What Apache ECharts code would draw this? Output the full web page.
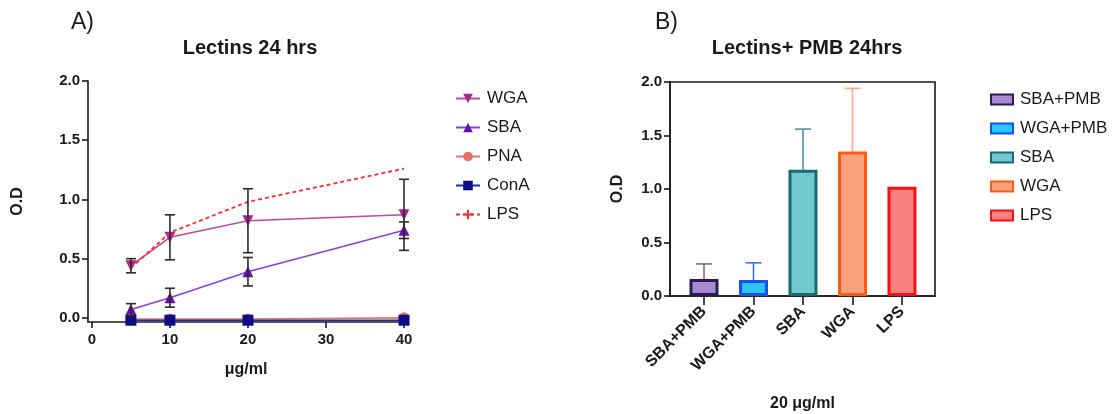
<!DOCTYPE html>
<html>
<head>
<meta charset="utf-8">
<script src="https://cdn.jsdelivr.net/npm/echarts@6/dist/echarts.min.js"></script>
<style>
html,body{margin:0;padding:0;background:#fff}
#main{width:1117px;height:414px}
</style>
</head>
<body>
<div id="main"></div>
<script>
// A) lectin dose response
var doses = [5, 10, 20, 40];
var wgaMean = [0.44, 0.68, 0.82, 0.87];
var wgaErr = [0.06, 0.19, 0.27, 0.30];
var sbaMean = [0.07, 0.17, 0.39, 0.74];
var sbaErr = [0.05, 0.08, 0.12, 0.07];
var pnaMean = [-0.01, -0.01, -0.01, 0.0];
var conaMean = [-0.02, -0.02, -0.02, -0.02];
var lpsMean = [0.42, 0.72, 0.98, 1.26];
var xTicks = [0, 10, 20, 30, 40];
var yTicks = [0, 0.5, 1, 1.5, 2];

// B) lectins + PMB at 20 ug/ml
var groups = ['SBA+PMB', 'WGA+PMB', 'SBA', 'WGA', 'LPS'];
var groupMean = [0.16, 0.15, 1.18, 1.35, 1.02];
var groupErr = [0.14, 0.16, 0.38, 0.59, 0];
var groupPos = [0, 1, 2, 3, 4];

var FONT = '"Liberation Sans", Arial, sans-serif';
var INK = '#1a1a1a';
var barFill = ['#a68bd1', '#27c6f7', '#72c9cf', '#f9a37c', '#f98080'];
var barEdge = ['#2d1a55', '#1850e8', '#156a74', '#ff5a14', '#f21414'];
var whiskerCol = ['#7d6b9e', '#3d6ff0', '#4b949c', '#ffa485', '#f21414'];

function pairs(xs, ys) {
	return xs.map(function(x, i) { return [x, ys[i]]; });
}
function spans(xs, m, e) {
	return xs.map(function(x, i) { return [x, m[i] - e[i], m[i] + e[i]]; });
}

//误差线
function whisker(color, half, lower) {
	return function(params, api) {
		var x = api.value(0), lo = api.value(1), hi = api.value(2);
		if (hi === lo) return;
		var top = api.coord([x, hi]), bot = api.coord([x, lo]);
		var st = {stroke: color, lineWidth: 1.6};
		var ch = [
			{type: 'line', shape: {x1: top[0], y1: top[1], x2: bot[0], y2: bot[1]}, style: st},
			{type: 'line', shape: {x1: top[0] - half, y1: top[1], x2: top[0] + half, y2: top[1]}, style: st}
		];
		if (lower) {
			ch.push({type: 'line', shape: {x1: bot[0] - half, y1: bot[1], x2: bot[0] + half, y2: bot[1]}, style: st});
		}
		return {type: 'group', children: ch};
	};
}

var tickLabel = {color: INK, fontWeight: 'bold', fontSize: 15, fontFamily: FONT};
var axisName = {color: INK, fontWeight: 'bold', fontSize: 16, fontFamily: FONT};
var axLine = {onZero: false, lineStyle: {color: INK, width: 1.6}};

var lineSeries = [
	{name: 'WGA', color: '#c0489f', mark: '#a8288e', symbol: 'triangle', rot: 180, y: wgaMean},
	{name: 'SBA', color: '#8e3fcc', mark: '#6410b0', symbol: 'triangle', rot: 0, y: sbaMean},
	{name: 'PNA', color: '#e8706a', mark: '#e8706a', symbol: 'circle', rot: 0, y: pnaMean},
	{name: 'ConA', color: '#2a2a9a', mark: '#0c0c86', symbol: 'rect', rot: 0, y: conaMean}
].map(function(s) {
	return {
		type: 'line', name: s.name, xAxisIndex: 0, yAxisIndex: 0,
		data: pairs(doses, s.y),
		symbol: s.symbol, symbolRotate: s.rot, symbolSize: 11,
		lineStyle: {color: s.color, width: 1.6},
		itemStyle: {color: s.mark},
		z: 3
	};
});
lineSeries.push({
	type: 'line', name: 'LPS', xAxisIndex: 0, yAxisIndex: 0,
	data: pairs(doses, lpsMean),
	symbol: 'path://M0,4h10v2H0zM4,0h2v10H4z', symbolSize: 7, showSymbol: false,
	lineStyle: {color: '#ff2a2a', width: 1.8, type: [4, 3]},
	itemStyle: {color: '#ff2a2a'},
	z: 4
});

var errSeries = [
	{type: 'custom', xAxisIndex: 0, yAxisIndex: 0, renderItem: whisker('#2b2b2b', 5, true),
		data: spans(doses, wgaMean, wgaErr), encode: {x: 0, y: [1, 2]}, z: 5, silent: true},
	{type: 'custom', xAxisIndex: 0, yAxisIndex: 0, renderItem: whisker('#2b2b2b', 5, true),
		data: spans(doses, sbaMean, sbaErr), encode: {x: 0, y: [1, 2]}, z: 5, silent: true}
];

// bar names get a prefix so they don't clash with the line legend
var barSeries = groups.map(function(g, i) {
	return {
		type: 'bar', name: 'B:' + g, xAxisIndex: 1, yAxisIndex: 1, stack: 'b',
		barWidth: 29,
		data: [[groupPos[i], groupMean[i]]],
		itemStyle: {color: barFill[i], borderColor: barEdge[i], borderWidth: 3},
		z: 3
	};
});
var barErr = groups.map(function(g, i) {
	return {
		type: 'custom', xAxisIndex: 1, yAxisIndex: 1, renderItem: whisker(whiskerCol[i], 8, false),
		data: [[groupPos[i], groupMean[i], groupMean[i] + groupErr[i]]], encode: {x: 0, y: [1, 2]}, z: 2, silent: true
	};
});

var myChart = echarts.init(document.getElementById('main'));
option = {
	animation: false,
	textStyle: {fontFamily: FONT},
	title: [
		{text: 'A)', left: 66, top: 6, textStyle: {fontSize: 23, fontWeight: 'normal', color: INK, fontFamily: FONT}},
		{text: 'Lectins 24 hrs', left: 245, top: 33, textAlign: 'center', textStyle: {fontSize: 20, fontWeight: 'bold', color: INK, fontFamily: FONT}},
		{text: 'B)', left: 650, top: 6, textStyle: {fontSize: 23, fontWeight: 'normal', color: INK, fontFamily: FONT}},
		{text: 'Lectins+ PMB 24hrs', left: 802, top: 33, textAlign: 'center', textStyle: {fontSize: 20, fontWeight: 'bold', color: INK, fontFamily: FONT}}
	],
	legend: [
		{
			data: ['WGA', 'SBA', 'PNA', 'ConA', 'LPS'],
			orient: 'vertical', left: 450, top: 85, itemWidth: 24, itemHeight: 12, itemGap: 12,
			textStyle: {fontSize: 17, color: INK, fontFamily: FONT, padding: [0, 0, 0, 2]}
		},
		{
			data: groups.map(function(g) { return 'B:' + g; }), icon: 'rect',
			formatter: function(n) { return n.slice(2); },
			orient: 'vertical', left: 985, top: 86, itemWidth: 22, itemHeight: 10, itemGap: 12,
			textStyle: {fontSize: 17, color: INK, fontFamily: FONT, padding: [0, 0, 0, 2]}
		}
	],
	grid: [
		{left: 88, top: 81, width: 316, height: 241, outerBoundsMode: 'none'},
		{left: 670, top: 82, width: 265, height: 214, outerBoundsMode: 'none', show: true, borderColor: INK, borderWidth: 1.6}
	],
	xAxis: [
		{
			gridIndex: 0, type: 'value', min: -0.5, max: 40,
			axisLine: axLine, splitLine: {show: false},
			axisTick: {customValues: xTicks, length: 6, lineStyle: {color: INK, width: 1.6}},
			axisLabel: Object.assign({customValues: xTicks, margin: 10}, tickLabel),
			name: 'μg/ml', nameLocation: 'middle', nameGap: 40, nameTextStyle: axisName
		},
		{
			gridIndex: 1, type: 'value', min: -0.687, max: 4.667,
			axisLine: axLine, splitLine: {show: false},
			axisTick: {customValues: groupPos, length: 9, lineStyle: {color: INK, width: 1.6}},
			axisLabel: Object.assign({customValues: groupPos, rotate: 45, margin: 13,
				formatter: function(v) { return groups[Math.round(v)]; }}, tickLabel, {fontSize: 16}),
			name: '20 μg/ml', nameLocation: 'middle', nameGap: 100, nameTextStyle: axisName
		}
	],
	yAxis: [
		{
			gridIndex: 0, type: 'value', min: -0.035, max: 2,
			axisLine: Object.assign({show: true}, axLine), splitLine: {show: false},
			axisTick: {show: true, customValues: yTicks, length: 6, lineStyle: {color: INK, width: 1.6}},
			axisLabel: Object.assign({customValues: yTicks, margin: 8, formatter: function(v) { return v.toFixed(1); }}, tickLabel),
			name: 'O.D', nameLocation: 'middle', nameGap: 62, nameTextStyle: axisName
		},
		{
			gridIndex: 1, type: 'value', min: 0, max: 2, interval: 0.5,
			axisLine: Object.assign({show: true}, axLine), splitLine: {show: false},
			axisTick: {show: true, length: 6, lineStyle: {color: INK, width: 1.6}},
			axisLabel: Object.assign({margin: 8, formatter: function(v) { return v.toFixed(1); }}, tickLabel),
			name: 'O.D', nameLocation: 'middle', nameGap: 44, nameTextStyle: axisName
		}
	],
	series: lineSeries.concat(errSeries, barSeries, barErr)
};
myChart.setOption(option);
</script>
</body>
</html>
